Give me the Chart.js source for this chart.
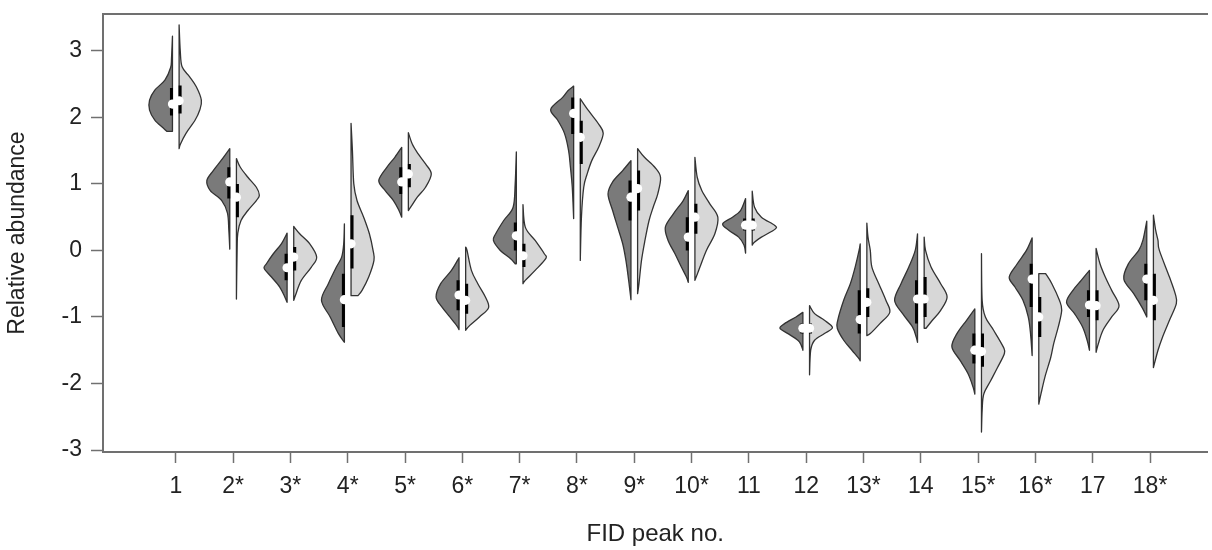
<!DOCTYPE html>
<html>
<head>
<meta charset="utf-8">
<script src="https://cdn.jsdelivr.net/npm/chart.js@4.4.1/dist/chart.umd.min.js"></script>
<style>
  html, body { margin: 0; padding: 0; background: #ffffff; }
  #wrap { width: 1212px; height: 550px; }
</style>
</head>
<body>
<div id="wrap"><canvas id="c" width="1212" height="550"></canvas></div>
<script>
// ---------------- DATA ----------------
const categories = ['1','2*','3*','4*','5*','6*','7*','8*','9*','10*','11','12','13*','14','15*','16*','17','18*'];
const yTicks = [-3, -2, -1, 0, 1, 2, 3];

// Density profiles: [value, relative width (0..1)], top to bottom
const darkShapes = [
  [[3.22,0],[2.9,0.04],[2.75,0.08],[2.56,0.33],[2.41,0.77],[2.26,1.0],[2.11,1.0],[1.96,0.77],[1.84,0.4],[1.79,0.25]],
  [[1.53,0],[1.36,0.36],[1.2,0.72],[1.05,1.0],[0.9,0.85],[0.75,0.35],[0.56,0.1],[0.3,0.04],[0.02,0]],
  [[0.26,0],[0.1,0.25],[-0.05,0.6],[-0.2,0.9],[-0.27,1.0],[-0.4,0.68],[-0.55,0.32],[-0.7,0.1],[-0.78,0]],
  [[0.4,0],[0.1,0.03],[-0.1,0.12],[-0.25,0.35],[-0.5,0.7],[-0.75,1.0],[-1.0,0.62],[-1.25,0.26],[-1.38,0]],
  [[1.55,0],[1.4,0.3],[1.25,0.65],[1.05,1.0],[0.9,0.72],[0.75,0.36],[0.6,0.12],[0.5,0]],
  [[-0.11,0],[-0.3,0.33],[-0.5,0.8],[-0.7,1.0],[-0.85,0.75],[-1.0,0.4],[-1.13,0.1],[-1.19,0]],
  [[1.48,0],[1.0,0.05],[0.65,0.14],[0.45,0.55],[0.25,0.9],[0.15,1.0],[0.0,0.7],[-0.12,0.26],[-0.2,0.05]],
  [[2.47,0],[2.4,0.25],[2.3,0.48],[2.12,1.0],[1.96,0.7],[1.76,0.4],[1.5,0.22],[1.25,0.14],[0.95,0.06],[0.48,0]],
  [[1.35,0],[1.2,0.36],[1.03,0.8],[0.85,1.0],[0.6,0.8],[0.35,0.58],[0.1,0.36],[-0.15,0.22],[-0.45,0.1],[-0.74,0]],
  [[0.9,0],[0.75,0.22],[0.55,0.65],[0.35,1.0],[0.15,0.88],[-0.05,0.58],[-0.25,0.3],[-0.4,0.08],[-0.48,0]],
  [[0.78,0],[0.6,0.22],[0.5,0.57],[0.4,1.0],[0.3,0.72],[0.2,0.3],[0.08,0.07],[-0.04,0]],
  [[-0.93,0],[-1.0,0.3],[-1.1,0.8],[-1.17,1.0],[-1.25,0.65],[-1.35,0.22],[-1.42,0.08],[-1.5,0]],
  [[0.1,0],[0.0,0.05],[-0.25,0.22],[-0.5,0.43],[-0.75,0.72],[-1.05,0.98],[-1.17,1.0],[-1.35,0.72],[-1.5,0.36],[-1.62,0.07],[-1.66,0]],
  [[0.25,0],[0.0,0.1],[-0.25,0.38],[-0.5,0.72],[-0.75,1.0],[-0.95,0.65],[-1.15,0.22],[-1.3,0.06],[-1.38,0]],
  [[-0.88,0],[-1.05,0.36],[-1.25,0.78],[-1.45,1.0],[-1.65,0.65],[-1.85,0.3],[-2.05,0.08],[-2.16,0]],
  [[0.19,0],[0.0,0.25],[-0.2,0.65],[-0.4,1.0],[-0.55,0.75],[-0.75,0.4],[-1.0,0.17],[-1.25,0.07],[-1.58,0]],
  [[-0.3,0],[-0.45,0.36],[-0.6,0.72],[-0.78,1.0],[-0.95,0.65],[-1.15,0.3],[-1.35,0.1],[-1.5,0]],
  [[0.44,0],[0.15,0.17],[0.0,0.35],[-0.2,0.8],[-0.43,1.0],[-0.65,0.57],[-0.86,0.2],[-1.0,0]]
];
const lightShapes = [
  [[3.39,0],[3.0,0.05],[2.76,0.13],[2.61,0.46],[2.46,0.75],[2.26,0.97],[2.11,0.9],[1.96,0.7],[1.76,0.3],[1.6,0.06],[1.53,0]],
  [[1.38,0],[1.25,0.17],[1.1,0.5],[0.95,0.87],[0.83,1.0],[0.75,0.87],[0.6,0.5],[0.45,0.2],[0.26,0.06],[0.0,0.03],[-0.73,0]],
  [[0.36,0],[0.25,0.26],[0.1,0.7],[-0.1,1.0],[-0.25,0.77],[-0.45,0.33],[-0.65,0.1],[-0.75,0]],
  [[1.91,0],[1.5,0.06],[1.0,0.12],[0.75,0.26],[0.5,0.55],[0.25,0.8],[0.0,0.96],[-0.15,1.0],[-0.4,0.77],[-0.6,0.48],[-0.68,0.3]],
  [[1.77,0],[1.6,0.17],[1.45,0.43],[1.3,0.75],[1.15,1.0],[0.95,0.75],[0.8,0.39],[0.65,0.1],[0.6,0]],
  [[0.05,0],[0.0,0.06],[-0.3,0.25],[-0.5,0.53],[-0.7,0.86],[-0.86,1.0],[-1.0,0.6],[-1.13,0.17],[-1.2,0]],
  [[0.69,0],[0.35,0.1],[0.15,0.53],[-0.05,0.93],[-0.12,1.0],[-0.3,0.53],[-0.45,0.1],[-0.5,0]],
  [[2.28,0],[2.1,0.36],[1.9,0.8],[1.76,1.0],[1.55,0.8],[1.35,0.5],[1.15,0.3],[0.95,0.15],[0.5,0.05],[-0.15,0]],
  [[1.53,0],[1.4,0.3],[1.25,0.75],[1.1,1.0],[0.85,0.88],[0.65,0.68],[0.45,0.5],[0.15,0.32],[-0.15,0.17],[-0.5,0.06],[-0.65,0]],
  [[1.4,0],[1.1,0.1],[0.9,0.3],[0.7,0.65],[0.5,1.0],[0.25,0.87],[0.0,0.5],[-0.25,0.22],[-0.45,0]],
  [[0.89,0],[0.65,0.1],[0.5,0.4],[0.38,0.97],[0.32,1.0],[0.2,0.4],[0.12,0.08],[0.08,0]],
  [[-0.83,0],[-0.95,0.22],[-1.05,0.65],[-1.16,1.0],[-1.25,0.65],[-1.35,0.22],[-1.5,0.05],[-1.87,0]],
  [[0.41,0],[0.2,0.05],[0.0,0.15],[-0.25,0.22],[-0.5,0.52],[-0.75,0.83],[-0.93,1.0],[-1.1,0.57],[-1.25,0.15],[-1.28,0]],
  [[0.2,0],[0.0,0.06],[-0.25,0.3],[-0.5,0.72],[-0.7,1.0],[-0.9,0.72],[-1.05,0.36],[-1.17,0.08]],
  [[-0.05,0],[-0.75,0.03],[-1.0,0.17],[-1.2,0.53],[-1.45,0.95],[-1.55,1.0],[-1.76,0.7],[-1.96,0.4],[-2.16,0.1],[-2.4,0.03],[-2.73,0]],
  [[-0.35,0.3],[-0.5,0.57],[-0.75,0.9],[-0.9,1.0],[-1.15,0.85],[-1.4,0.65],[-1.61,0.52],[-1.9,0.27],[-2.15,0.1],[-2.31,0]],
  [[0.03,0],[-0.2,0.17],[-0.4,0.4],[-0.6,0.68],[-0.83,1.0],[-1.0,0.68],[-1.2,0.3],[-1.4,0.1],[-1.53,0]],
  [[0.53,0],[0.3,0.1],[0.15,0.2],[0.0,0.26],[-0.4,0.7],[-0.65,0.95],[-0.8,1.0],[-1.05,0.7],[-1.3,0.4],[-1.5,0.2],[-1.76,0]]
];
const darkMedian = [2.2, 1.03, -0.26, -0.74, 1.03, -0.67, 0.22, 2.06, 0.8, 0.2, 0.38, -1.17, -1.04, -0.73, -1.5, -0.43, -0.82, -0.43];
const lightMedian = [2.25, 0.8, -0.1, 0.1, 1.15, -0.75, -0.08, 1.7, 0.93, 0.5, 0.38, -1.17, -0.78, -0.73, -1.52, -1.0, -0.83, -0.75];
const darkQ1 = [2.03, 0.78, -0.45, -1.15, 0.85, -0.9, 0.0, 1.75, 0.45, 0.0, 0.3, -1.25, -1.25, -1.1, -1.7, -0.85, -1.0, -0.75];
const darkQ3 = [2.44, 1.25, -0.05, -0.35, 1.25, -0.45, 0.42, 2.3, 1.05, 0.5, 0.48, -1.1, -0.6, -0.45, -1.25, -0.2, -0.6, -0.2];
const lightQ1 = [2.06, 0.5, -0.3, -0.27, 0.95, -0.95, -0.25, 1.3, 0.6, 0.25, 0.3, -1.25, -1.0, -1.0, -1.75, -1.3, -1.05, -1.05];
const lightQ3 = [2.48, 1.0, 0.05, 0.53, 1.3, -0.5, 0.1, 1.95, 1.2, 0.7, 0.48, -1.1, -0.57, -0.4, -1.25, -0.7, -0.6, -0.35];

// ---------------- STYLE ----------------
const HALF_W = 0.40;   // max half-violin width in category units
const OFF = 0.058;     // gap from category centre to each half's straight edge
const DARK_FILL = '#7a7a7a';
const LIGHT_FILL = '#d7d7d7';
const OUTLINE = '#333333';
const AXIS = '#707070';
const TEXT = '#222222';
const FONT = '"Liberation Sans", Arial, Helvetica, sans-serif';

function drawHalf(ctx, xs, ys, shape, center, side, fill) {
  const base = center + side * OFF;
  const xEdge = xs.getPixelForValue(base);
  const pts = shape.map(([v, d]) => ({ x: xs.getPixelForValue(base + side * d * HALF_W), y: ys.getPixelForValue(v) }));
  const clampX = (x) => side < 0 ? Math.min(x, xEdge) : Math.max(x, xEdge);
  ctx.beginPath();
  ctx.moveTo(xEdge, pts[0].y);
  ctx.lineTo(pts[0].x, pts[0].y);
  const t = 1 / 6;
  for (let k = 0; k < pts.length - 1; k++) {
    const p0 = pts[k - 1] || pts[k], p1 = pts[k], p2 = pts[k + 1], p3 = pts[k + 2] || pts[k + 1];
    ctx.bezierCurveTo(
      clampX(p1.x + (p2.x - p0.x) * t), p1.y + (p2.y - p0.y) * t,
      clampX(p2.x - (p3.x - p1.x) * t), p2.y - (p3.y - p1.y) * t,
      p2.x, p2.y);
  }
  ctx.lineTo(xEdge, pts[pts.length - 1].y);
  ctx.closePath();
  ctx.fillStyle = fill;
  ctx.fill();
  ctx.lineWidth = 1.3;
  ctx.strokeStyle = OUTLINE;
  ctx.lineJoin = 'round';
  ctx.stroke();
}

const violinPlugin = {
  id: 'violins',
  beforeDatasetsDraw(chart) {
    const { ctx, chartArea: a, scales: { x, y } } = chart;
    ctx.save();
    ctx.beginPath();
    ctx.rect(a.left, a.top, a.right - a.left, a.bottom - a.top);
    ctx.clip();
    categories.forEach((c, i) => {
      const cx = i + 1;
      drawHalf(ctx, x, y, darkShapes[i], cx, -1, DARK_FILL);
      drawHalf(ctx, x, y, lightShapes[i], cx, 1, LIGHT_FILL);
      // IQR bars
      ctx.strokeStyle = '#000000';
      ctx.lineWidth = 3;
      ctx.lineCap = 'butt';
      const xd = x.getPixelForValue(cx - OFF) - 1;
      const xl = x.getPixelForValue(cx + OFF) + 1;
      ctx.beginPath();
      ctx.moveTo(xd, y.getPixelForValue(darkQ1[i]));
      ctx.lineTo(xd, y.getPixelForValue(darkQ3[i]));
      ctx.moveTo(xl, y.getPixelForValue(lightQ1[i]));
      ctx.lineTo(xl, y.getPixelForValue(lightQ3[i]));
      ctx.stroke();
    });
    ctx.restore();
  }
};

new Chart(document.getElementById('c'), {
  type: 'scatter',
  data: {
    datasets: [
      { label: 'median (dark)', data: categories.map((c, i) => ({ x: i + 1 - OFF, y: darkMedian[i] })),
        pointRadius: 4.6, pointBackgroundColor: '#ffffff', pointBorderWidth: 0, pointBorderColor: '#ffffff' },
      { label: 'median (light)', data: categories.map((c, i) => ({ x: i + 1 + OFF, y: lightMedian[i] })),
        pointRadius: 4.6, pointBackgroundColor: '#ffffff', pointBorderWidth: 0, pointBorderColor: '#ffffff' }
    ]
  },
  options: {
    responsive: false,
    animation: false,
    devicePixelRatio: 1,
    layout: { padding: { left: 0, right: 0, top: 0, bottom: 0 } },
    plugins: { legend: { display: false }, tooltip: { enabled: false } },
    scales: {
      x: {
        type: 'linear', position: 'bottom', min: -0.27, max: 19.0,
        afterBuildTicks: (s) => { s.ticks = categories.map((c, i) => ({ value: i + 1 })); },
        afterFit: (s) => { s.height = 98; s.paddingLeft = 0; s.paddingRight = 0; },
        ticks: { callback: (v) => categories[v - 1], autoSkip: false, maxRotation: 0, padding: 10,
                 color: TEXT, font: { family: FONT, size: 23 } },
        grid: { drawOnChartArea: false, drawTicks: true, tickLength: 11, color: AXIS, tickWidth: 1.5 },
        border: { display: true, color: AXIS, width: 2 },
        title: { display: true, text: 'FID peak no.', color: TEXT, font: { family: FONT, size: 24 }, padding: { top: 0, bottom: 1 } }
      },
      x2: {
        type: 'linear', position: 'top', min: -0.27, max: 19.0,
        afterFit: (s) => { s.height = 14; s.paddingLeft = 0; s.paddingRight = 0; },
        ticks: { display: false },
        grid: { display: false, drawTicks: false },
        border: { display: true, color: AXIS, width: 2 }
      },
      y: {
        type: 'linear', position: 'left', min: -3.03, max: 3.554,
        afterBuildTicks: (s) => { s.ticks = yTicks.map(v => ({ value: v })); },
        afterFit: (s) => { s.width = 103; s.paddingTop = 0; s.paddingBottom = 0; },
        ticks: { padding: 9, color: TEXT, font: { family: FONT, size: 23 } },
        grid: { drawOnChartArea: false, drawTicks: true, tickLength: 12, color: AXIS, tickWidth: 1.5 },
        border: { display: true, color: AXIS, width: 2 },
        title: { display: true, text: 'Relative abundance', color: TEXT, font: { family: FONT, size: 23 }, padding: { top: 4, bottom: 0 } }
      }
    }
  },
  plugins: [violinPlugin]
});
</script>
</body>
</html>
